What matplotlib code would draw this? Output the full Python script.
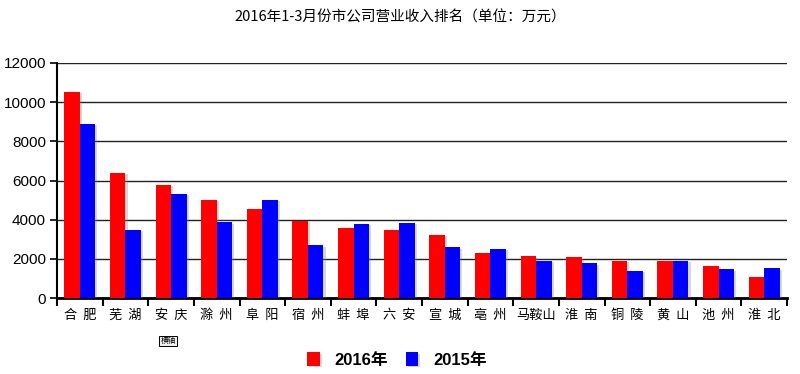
import matplotlib
matplotlib.use("Agg")
import matplotlib.pyplot as plt
import matplotlib.patheffects as pe
import numpy as np

plt.rcParams['font.family'] = ['Noto Sans CJK SC', 'DejaVu Sans']

title = "2016年1-3月份市公司营业收入排名（单位：万元）"
cities = ["合肥", "芜湖", "安庆", "滁州", "阜阳", "宿州", "蚌埠", "六安", "宣城",
          "亳州", "马鞍山", "淮南", "铜陵", "黄山", "池州", "淮北"]
rev_2016 = [10540, 6400, 5790, 5000, 4560, 3930, 3560, 3490, 3220,
            2320, 2130, 2080, 1910, 1890, 1650, 1070]
rev_2015 = [8900, 3490, 5310, 3860, 5020, 2690, 3780, 3850, 2590,
            2520, 1910, 1770, 1380, 1890, 1460, 1520]
yticks = [0, 2000, 4000, 6000, 8000, 10000, 12000]
series_names = ["2016年", "2015年"]

fig = plt.figure(figsize=(8, 3.74), dpi=100)
ax = fig.add_axes([57/800, 1-298/374, (787-57)/800, (298-63)/374])

x = np.arange(len(cities))
w = 0.34
shadow = [pe.SimplePatchShadow(offset=(1.5, -1), shadow_rgbFace='#808080', alpha=0.3), pe.Normal()]
b1 = ax.bar(x - w/2, rev_2016, w, color='#ff0000', zorder=3, label=series_names[0])
b2 = ax.bar(x + w/2, rev_2015, w, color='#0000ff', zorder=3, label=series_names[1])
for b in list(b1) + list(b2):
    b.set_path_effects(shadow)

ax.set_xlim(-0.5, len(cities) - 0.5)
ax.set_ylim(0, 12000)
ax.set_yticks(yticks)
ax.set_yticklabels([str(v) for v in yticks], fontfamily='Liberation Sans', fontsize=11)
ax.yaxis.grid(True, color='#222222', linewidth=1)
ax.set_axisbelow(True)

# x: boundary ticks (major, no labels) and centered labels (minor, no tick marks)
ax.set_xticks(np.arange(len(cities) + 1) - 0.5)
ax.set_xticklabels([])
ax.set_xticks(x, minor=True)
labels = [("  ".join(c) if len(c) == 2 else c) for c in cities]
ax.set_xticklabels(labels, minor=True, fontsize=9.5)
ax.tick_params(axis='x', which='major', length=6, width=1.5, direction='out', color='black')
ax.tick_params(axis='x', which='minor', length=0, pad=8)
ax.tick_params(axis='y', length=5, width=1.2, direction='out', pad=3)

for s in ['top', 'right']:
    ax.spines[s].set_visible(False)
ax.spines['left'].set_linewidth(1.5)
ax.spines['bottom'].set_linewidth(2)

fig.text(400/800, 1-18/374, title, ha='center', va='center', fontsize=10.5)

fig.text(168/800, 1-341/374, "横轴", ha='center', va='center', fontsize=5.5,
         bbox=dict(boxstyle='square,pad=0.15', facecolor='#f0f0f0', edgecolor='black', linewidth=0.7))

leg = fig.legend(handles=[b1, b2], labels=series_names, loc='center',
                 bbox_to_anchor=(397/800, 1-360/374), ncol=2, frameon=False,
                 handlelength=0.75, handleheight=0.9, handletextpad=0.9, columnspacing=1.05,
                 prop=dict(family=['Liberation Sans', 'Noto Sans CJK SC'], weight='bold', size=12))

fig.savefig("out.png", dpi=100)
